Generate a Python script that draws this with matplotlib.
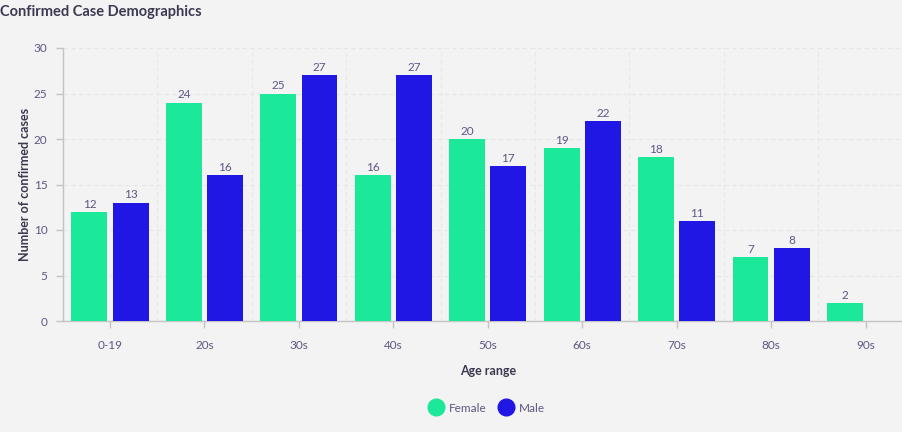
import matplotlib
matplotlib.use("Agg")
import matplotlib.pyplot as plt
import numpy as np
from matplotlib.lines import Line2D

categories = ["0-19", "20s", "30s", "40s", "50s", "60s", "70s", "80s", "90s"]
female = [12, 24, 25, 16, 20, 19, 18, 7, 2]
male = [13, 16, 27, 27, 17, 22, 11, 8, 0]

plt.rcParams['font.family'] = ['Lato', 'DejaVu Sans']

BG = "#f3f3f3"
FEM = "#1be898"
MAL = "#2117e4"
TXT = "#5d5784"
DARK = "#3b3950"

W, H = 903, 432
fig = plt.figure(figsize=(W/100, H/100), dpi=100, facecolor=BG)
left = 62.75 / W
right = 912.75 / W
top = 1 - 48 / H
bottom = 1 - 321 / H
ax = fig.add_axes([left, bottom, right - left, top - bottom], facecolor=BG)

x = np.arange(len(categories))
bw = 0.38
off = 0.218
bf = ax.bar(x - off, female, bw, color=FEM, zorder=3)
bm = ax.bar(x + off, male, bw, color=MAL, zorder=3)

for rect, v in zip(bf, female):
    if v > 0:
        ax.text(rect.get_x() + rect.get_width()/2, v + 0.25, str(v), ha='center', va='bottom',
                fontsize=8.5, color=TXT, zorder=4)
for rect, v in zip(bm, male):
    if v > 0:
        ax.text(rect.get_x() + rect.get_width()/2, v + 0.25, str(v), ha='center', va='bottom',
                fontsize=8.5, color=TXT, zorder=4)

ax.set_xlim(-0.5, len(categories) - 0.5)
ax.set_ylim(0, 30)
ax.set_yticks([0, 5, 10, 15, 20, 25, 30])
ax.set_xticks(x)
ax.set_xticklabels(categories)
ax.set_xticks(np.arange(len(categories) + 1) - 0.5, minor=True)

ax.grid(axis='y', which='major', color='#e6e6e6', linestyle=(0, (4, 3)), linewidth=0.8, zorder=0)
ax.grid(axis='x', which='minor', color='#e8e8e8', linestyle=(0, (4, 3)), linewidth=0.8, zorder=0)
ax.grid(axis='x', which='major', visible=False)

for s in ['top', 'right']:
    ax.spines[s].set_visible(False)
for s in ['left', 'bottom']:
    ax.spines[s].set_color('#c4c4c4')
    ax.spines[s].set_linewidth(1)

ax.tick_params(axis='both', which='major', colors='#c4c4c4', labelcolor=TXT, labelsize=8.5, length=5, width=1)
ax.tick_params(axis='x', which='minor', length=0)
ax.tick_params(axis='x', pad=9)
ax.tick_params(axis='y', pad=6)

ax.set_ylabel("Number of confirmed cases", fontsize=9, fontweight='bold', color=DARK, labelpad=2)
ax.set_xlabel("Age range", fontsize=9, fontweight='bold', color=DARK, labelpad=10)

fig.text(0 / W, 1 - 12 / H, "Confirmed Case Demographics", fontsize=10.5, fontweight='bold',
         color=DARK, ha='left', va='center')

handles = [Line2D([0], [0], marker='o', color='none', markerfacecolor=FEM, markeredgecolor=FEM, markersize=12),
           Line2D([0], [0], marker='o', color='none', markerfacecolor=MAL, markeredgecolor=MAL, markersize=12)]
leg = fig.legend(handles, ["Female", "Male"], loc='center', bbox_to_anchor=(487 / W, 1 - 408 / H),
                 ncol=2, frameon=False, fontsize=8.5, handletextpad=0.45, columnspacing=1.1,
                 handlelength=1.2)
for t in leg.get_texts():
    t.set_color(TXT)

fig.savefig("out.png", dpi=100, facecolor=BG)
